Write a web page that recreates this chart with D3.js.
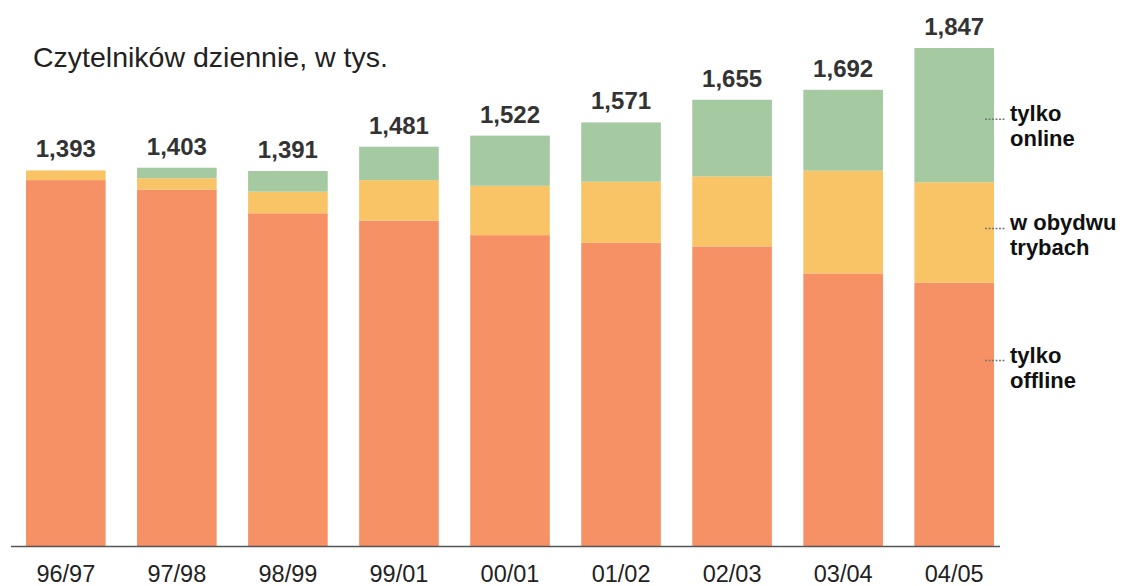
<!DOCTYPE html>
<html>

<head>
    <meta charset="utf-8">
    <title>Czytelników dziennie</title>
    <script src="https://d3js.org/d3.v7.min.js"></script>
    <style>
        body { margin: 0; background: #fff; }
        text { font-family: "Liberation Sans", Arial, Helvetica, sans-serif; }
    </style>
</head>

<body>
    <script>
        // values, in thousands of daily readers
        const seasons = ["96/97", "97/98", "98/99", "99/01", "00/01", "01/02", "02/03", "03/04", "04/05"];
        const totals = [1393, 1403, 1391, 1481, 1522, 1571, 1655, 1692, 1847];
        const offlineOnly = [1357, 1322, 1234, 1207, 1153, 1125, 1111, 1011, 977];
        const bothModes = [36, 42, 80, 150, 183, 226, 260, 381, 372];
        const onlineOnly = [0, 39, 77, 124, 186, 220, 284, 300, 498];

        const seriesKeys = ["offline", "both", "online"];
        const seriesLabels = [["tylko", "offline"], ["w obydwu", "trybach"], ["tylko", "online"]];
        const seriesColors = ["#f69166", "#f8c466", "#a5c9a0"];

        const width = 1126;
        const height = 586;
        const baseY = 546;

        const rows = seasons.map((s, i) => ({
            season: s,
            total: totals[i],
            offline: offlineOnly[i],
            both: bothModes[i],
            online: onlineOnly[i]
        }));

        const svg = d3.select("body").append("svg")
            .attr("width", width)
            .attr("height", height);

        const x = d3.scaleBand()
            .domain(seasons)
            .range([26, 994])
            .paddingInner(0.283)
            .paddingOuter(0);

        const y = d3.scaleLinear()
            .domain([0, d3.max(totals)])
            .range([baseY, 48]);

        const stacked = d3.stack().keys(seriesKeys)(rows);

        svg.append("g")
            .selectAll("g")
            .data(stacked)
            .enter().append("g")
            .attr("fill", (d, i) => seriesColors[i])
            .selectAll("rect")
            .data(d => d)
            .enter().append("rect")
            .attr("x", d => x(d.data.season))
            .attr("width", x.bandwidth())
            .attr("y", d => y(d[1]))
            .attr("height", d => y(d[0]) - y(d[1]));

        // totals above the bars
        svg.append("g")
            .selectAll("text")
            .data(rows)
            .enter().append("text")
            .attr("x", d => x(d.season) + x.bandwidth() / 2)
            .attr("y", d => y(d.total) - 13)
            .attr("text-anchor", "middle")
            .style("font-size", "24px")
            .style("font-weight", "bold")
            .style("fill", "#333")
            .text(d => d3.format(",")(d.total));

        // baseline + season labels
        const axis = svg.append("g")
            .attr("transform", `translate(0,${baseY})`)
            .call(d3.axisBottom(x).tickSize(0).tickPadding(19));
        axis.select(".domain").remove();
        axis.append("line")
            .attr("x1", 11).attr("x2", 1000)
            .attr("y1", 0.5).attr("y2", 0.5)
            .style("stroke", "#555")
            .style("stroke-width", 1.6);
        axis.selectAll(".tick text")
            .style("font-size", "23.5px")
            .style("font-family", "\"Liberation Sans\", Arial, sans-serif")
            .style("fill", "#222");

        svg.append("text")
            .attr("x", 33)
            .attr("y", 67)
            .style("font-size", "28.5px")
            .style("fill", "#222")
            .text("Czytelników dziennie, w tys.");

        // labels to the right of the last bar
        const last = stacked.map(s => s[s.length - 1]);
        const legendY = [
            y(last[0][1]) + 78,
            (y(last[1][0]) + y(last[1][1])) / 2 - 4,
            (y(last[2][0]) + y(last[2][1])) / 2 + 4
        ];
        const xr = x(seasons[seasons.length - 1]) + x.bandwidth();

        const legend = svg.append("g")
            .selectAll("g")
            .data(seriesLabels)
            .enter().append("g")
            .attr("transform", (d, i) => `translate(0,${legendY[i]})`);

        legend.append("line")
            .attr("x1", xr - 9).attr("x2", xr + 12)
            .attr("y1", 0).attr("y2", 0)
            .style("stroke", "#777")
            .style("stroke-width", 1.5)
            .style("stroke-dasharray", "2,1.5");

        // one text per line so the two lines don't share a box
        legend.selectAll("text")
            .data(d => d)
            .enter().append("text")
            .attr("x", xr + 16)
            .attr("y", (d, i) => 2 + i * 25)
            .style("font-size", "22px")
            .style("font-weight", "bold")
            .style("fill", "#111")
            .text(d => d);
    </script>
</body>

</html>
